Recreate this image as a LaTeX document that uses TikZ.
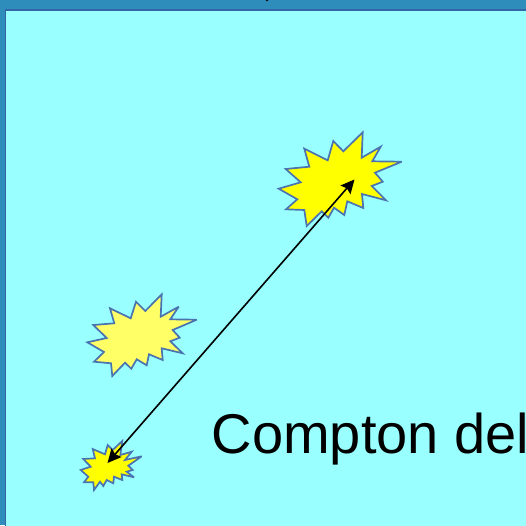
\documentclass[tikz,border=0pt]{standalone}
\usepackage{fontspec}
\setmainfont{Liberation Sans}
\usepackage{xcolor}
\usetikzlibrary{arrows.meta}
\definecolor{slidec}{HTML}{2F8DBB}
\definecolor{framec}{HTML}{3366A8}
\definecolor{panelc}{HTML}{99FFFF}
\definecolor{burstc}{HTML}{FFFF00}
\definecolor{palec}{HTML}{FFFF66}
\definecolor{edgec}{HTML}{4A73B0}
\tikzset{
  burst/.style={draw=edgec,line width=1.7pt,line join=miter,miter limit=4,fill=burstc},
  ar/.style={{Stealth[length=4.8mm,width=4.6mm,inset=0.7mm]}-{Stealth[length=4.8mm,width=4.6mm,inset=0.7mm]},line width=1.6pt,black}
}
\begin{document}
\begin{tikzpicture}[x=1pt,y=-1pt]
\useasboundingbox (0,0) rectangle (526,525);
\fill[slidec] (0,0) rectangle (526,525);
\fill[panelc,draw=framec,line width=1.6pt] (5.4,10.2) rectangle (540,540);
\fill[black] (267,0) circle (1.3);
% bright burst, upper right
\draw[burst] (362.7,132.3)--(361.7,157.7)--(380.7,146.7)--(372.3,161.3)--(401.7,161.7)--(375,172.7)--(382.7,181.7)--(371.7,186)--(386,200.3)--(362,194)--(363.3,208)--(347.3,201.3)--(344.3,215)--(334,207.7)--(328.3,217.7)--(321.7,211.3)--(306.7,226)--(304.3,210)--(286,209.3)--(297.3,199.3)--(278.7,188.7)--(300.7,182.3)--(285.7,169)--(309.3,166.7)--(304.3,148.7)--(327.7,160.3)--(333.3,141)--(343.3,151.3)--cycle;
% pale burst, middle left
\draw[burst,fill=palec] (161.7,294.3)--(160.7,316.7)--(178.7,306.7)--(170.3,319.3)--(196.7,319.7)--(172.7,330)--(179.7,337.7)--(170.3,341.3)--(182.7,353.3)--(161.7,348.3)--(162.7,360)--(149,354.3)--(146.7,365.3)--(136.7,359.3)--(131.3,368.7)--(125,362.7)--(112.3,376)--(111,363.3)--(94,361.7)--(104,352)--(87.3,342.3)--(106.7,338)--(93.3,325)--(114.3,323.3)--(110,308.3)--(130.7,318.3)--(136,301.7)--(145.3,311)--cycle;
% small burst, lower left
\draw[burst] (122.3,441)--(120.3,455)--(131.7,451.7)--(125,460)--(141.7,456.3)--(128.3,465.7)--(132.7,470)--(126.7,471.7)--(134,477.3)--(121.7,474.3)--(122.3,480)--(114,476.7)--(113.3,483.3)--(106.7,480)--(103.3,486)--(100,481.7)--(94,490)--(93.3,482.3)--(84,482.3)--(88.3,476.7)--(80.7,470)--(90.7,466.7)--(83.3,459)--(95,458.3)--(92.7,449)--(105,454.3)--(107.7,445)--(112.7,450)--cycle;
\coordinate (upper) at (354.5,179.5);
\coordinate (lower) at (107.5,463);
\draw[ar] (lower)--(upper);
\node[anchor=base west,inner sep=0pt,font=\fontsize{56}{60}\selectfont] (label) at (211.5,453) {Compton del};
\end{tikzpicture}
\end{document}
